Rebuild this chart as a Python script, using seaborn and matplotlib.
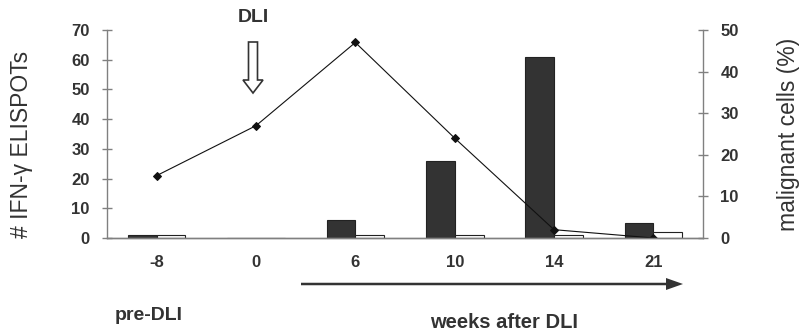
import matplotlib
matplotlib.use("Agg")
import matplotlib.pyplot as plt
from matplotlib.patches import FancyArrow
import numpy as np
import pandas as pd
import seaborn as sns

# Time points (weeks relative to DLI)
weeks = ["-8", "0", "6", "10", "14", "21"]
# IFN-gamma ELISPOT counts: stimulated vs control wells
elispot_stim = [1, 0, 6, 26, 61, 5]
elispot_ctrl = [1, 0, 1, 1, 1, 2]
# Percentage of malignant cells
malignant_pct = [15, 27, 47, 24, 2, 0]

left_ticks = [0, 10, 20, 30, 40, 50, 60, 70]
right_ticks = [0, 10, 20, 30, 40, 50]

sns.set_style("white")
plt.rcParams["font.family"] = ["Liberation Sans", "DejaVu Sans"]

TEXT = "#333333"
AXIS = "#808080"

df = pd.DataFrame({
    "week": weeks * 2,
    "spots": elispot_stim + elispot_ctrl,
    "well": ["stim"] * len(weeks) + ["ctrl"] * len(weeks),
})

fig = plt.figure(figsize=(8.01, 3.33), dpi=100)
ax = fig.add_axes([0.1336, 0.2853, 0.7441, 0.6246])

sns.barplot(data=df, x="week", y="spots", hue="well", order=weeks,
            hue_order=["stim", "ctrl"], palette=["#333333", "white"],
            edgecolor="#222222", linewidth=0.8, width=0.58, ax=ax,
            legend=False, errorbar=None)

ax.set_xlim(-0.5, 5.5)
ax.set_ylim(0, 70)
ax.set_yticks(left_ticks)
ax.set_xlabel("")
ax.set_ylabel("# IFN-γ ELISPOTs", fontsize=16.5, color=TEXT)
ax.yaxis.label.set_va("center")
ax.yaxis.set_label_coords(-0.143, 0.452)

ax2 = ax.twinx()
sns.lineplot(x=np.arange(len(weeks)), y=malignant_pct, ax=ax2, color="#111111",
             linewidth=0.8, marker="D", markersize=4.5, markeredgecolor="#111111")
ax2.set_ylim(0, 50)
ax2.set_yticks(right_ticks)
ax2.set_ylabel("malignant cells (%)", fontsize=16.5, color=TEXT)
ax2.yaxis.label.set_va("center")
ax2.yaxis.set_label_coords(1.144, 0.50)

for a in (ax, ax2):
    a.spines["top"].set_visible(False)
    for s in a.spines.values():
        s.set_color(AXIS)
        s.set_linewidth(1.0)
    a.tick_params(axis="y", direction="inout", length=7, width=1, color=AXIS,
                  labelsize=12, labelcolor=TEXT)
    a.tick_params(axis="x", length=0, labelsize=12, labelcolor=TEXT, pad=12)
    for lab in a.get_yticklabels() + a.get_xticklabels():
        lab.set_fontweight("bold")
ax.tick_params(axis="y", pad=9)
ax2.tick_params(axis="y", pad=9)
ax2.spines["left"].set_visible(False)
ax.spines["right"].set_visible(False)

# DLI marker: hollow down arrow (coordinates in inches)
fig.text(253 / 801, 1 - 17 / 333, "DLI", ha="center", va="center",
         fontsize=14, fontweight="bold", color=TEXT)
fig.patches.append(FancyArrow(2.53, 2.91, 0, -0.51, width=0.09,
                              head_width=0.20, head_length=0.13,
                              length_includes_head=True,
                              transform=fig.dpi_scale_trans,
                              facecolor="white", edgecolor=TEXT, linewidth=1.2))

# Time arrow for the post-DLI period
fig.patches.append(FancyArrow(3.01, 0.49, 3.82, 0, width=0.025,
                              head_width=0.12, head_length=0.17,
                              length_includes_head=True,
                              transform=fig.dpi_scale_trans,
                              facecolor=TEXT, edgecolor=TEXT, linewidth=0))

fig.text(149 / 801, 1 - 315 / 333, "pre-DLI", ha="center", va="center",
         fontsize=14, fontweight="bold", color=TEXT)
fig.text(504 / 801, 1 - 322 / 333, "weeks after DLI", ha="center", va="center",
         fontsize=14.5, fontweight="bold", color=TEXT)

fig.savefig("out.png", dpi=100)
